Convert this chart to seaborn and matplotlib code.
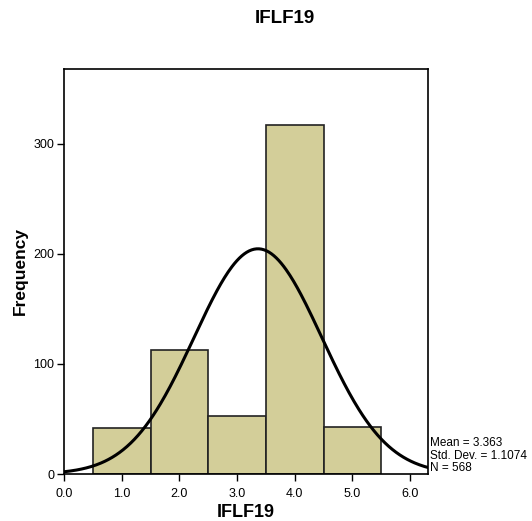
#!/usr/bin/env python3
"""SPSS-style histogram of IFLF19 with normal curve."""

import matplotlib

matplotlib.use("Agg")
import matplotlib.pyplot as plt
import numpy as np
import pandas as pd
import seaborn as sns

BIN_CENTERS = [1.0, 2.0, 3.0, 4.0, 5.0]
COUNTS = [42, 113, 53, 317, 43]
BIN_EDGES = [0.5, 1.5, 2.5, 3.5, 4.5, 5.5]
MEAN = 3.363
STD = 1.1074
N = 568
X_TICKS = [0.0, 1.0, 2.0, 3.0, 4.0, 5.0, 6.0]
Y_TICKS = [0, 100, 200, 300]

BAR_COLOR = "#d3ce99"

sns.set_theme(style="white")
plt.rcParams["font.family"] = ["Liberation Sans", "DejaVu Sans"]
plt.rcParams.update({
    "text.color": "black",
    "axes.labelcolor": "black",
    "xtick.color": "black",
    "ytick.color": "black",
})

df = pd.DataFrame({"IFLF19": BIN_CENTERS, "count": COUNTS})

fig = plt.figure(figsize=(5.32, 5.21), dpi=100)
ax = fig.add_axes([0.1203, 0.0902, 0.684, 0.7774])

sns.histplot(
    data=df,
    x="IFLF19",
    weights="count",
    bins=BIN_EDGES,
    color=BAR_COLOR,
    alpha=1.0,
    edgecolor="#222222",
    linewidth=1.2,
    ax=ax,
)

xs = np.linspace(0.0, 6.4, 300)
ys = N * 1.0 / (STD * np.sqrt(2 * np.pi)) * np.exp(-0.5 * ((xs - MEAN) / STD) ** 2)
ax.plot(xs, ys, color="black", linewidth=2.2, clip_on=True)

ax.set_xlim(0.0, 6.31)
ax.set_ylim(0, 368)
ax.set_xticks(X_TICKS)
ax.set_xticklabels([f"{t:.1f}" for t in X_TICKS], fontsize=9)
ax.set_yticks(Y_TICKS)
ax.set_yticklabels([str(t) for t in Y_TICKS], fontsize=9)
ax.tick_params(axis="x", direction="out", length=5, width=1, pad=5, bottom=True)
ax.tick_params(axis="y", direction="out", length=5, width=1, pad=2, left=True)
for s in ax.spines.values():
    s.set_color("black")
    s.set_linewidth(1.2)

ax.set_xlabel("IFLF19", fontsize=13, fontweight="bold", labelpad=3)
ax.set_ylabel("Frequency", fontsize=12.5, fontweight="bold", labelpad=4)
fig.text(0.536, 0.965, "IFLF19", fontsize=13.5, fontweight="bold", ha="center", va="center")

ax.text(1.005, 0.0, f"Mean = {MEAN}\nStd. Dev. = {STD}\nN = {N}",
        transform=ax.transAxes, ha="left", va="bottom", fontsize=8.5, linespacing=1.05)

fig.savefig("out.png", dpi=100)
